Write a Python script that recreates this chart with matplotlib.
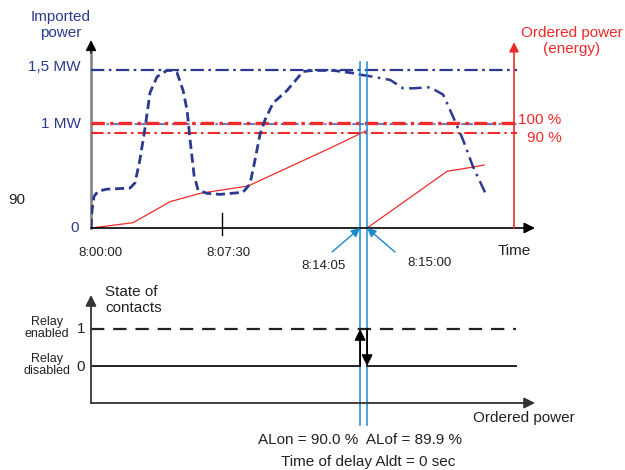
import matplotlib
matplotlib.use("Agg")
import matplotlib.pyplot as plt

plt.rcParams['font.family'] = ['Liberation Sans', 'DejaVu Sans']

# imported power (MW) against time (min after 8:00:00)
t_imp = [0, 0.06, 0.17, 0.40, 0.92, 2.23, 2.52, 2.80, 3.09, 3.38, 3.78, 4.35, 4.69, 4.92,
         5.27, 5.50, 5.67, 5.90, 6.13, 6.64, 7.38, 8.70, 9.10, 9.39, 9.67, 9.96, 10.42,
         11.22, 12.14, 12.71, 13.85, 15.23, 15.40]
p_imp = [0, 0.17, 0.30, 0.35, 0.37, 0.38, 0.43, 0.65, 0.95, 1.29, 1.44, 1.50, 1.50, 1.48,
         1.31, 1.12, 0.84, 0.50, 0.36, 0.33, 0.32, 0.34, 0.42, 0.65, 0.89, 1.03, 1.19,
         1.31, 1.49, 1.50, 1.50, 1.47, 1.46]
t_imp2 = [15.40, 15.80, 17.12, 17.86, 18.43, 19.40, 20.15, 20.72, 21.29, 21.87, 22.55]
p_imp2 = [1.46, 1.45, 1.41, 1.33, 1.33, 1.34, 1.27, 1.06, 0.84, 0.58, 0.34]

# ordered energy, two accounting periods
t_ord1 = [0, 2.40, 4.52, 6.24, 8.99, 13.68, 15.80]
e_ord1 = [0, 0.05, 0.25, 0.33, 0.40, 0.76, 0.93]
t_ord2 = [15.80, 20.38, 21.87, 22.50]
e_ord2 = [0, 0.54, 0.58, 0.60]

p_max = 1.5
p_100 = 1.0
p_90 = 0.9
t_end = 24.4
t_on = 15.40    # 8:14:05
t_off = 15.80   # 8:15:00
t_tick = 7.5    # 8:07:30

NAVY = '#2b3a8f'
RED = '#ee2a2a'
CYAN = '#1a8ad0'

W, H = 625, 470
fig = plt.figure(figsize=(W / 100, H / 100), dpi=100)


def box(l, t, r, b):
    return [l / W, 1 - b / H, (r - l) / W, (b - t) / H]


ax = fig.add_axes(box(91, 40, 535, 228))
ax.set_xlim(0, 25.41)
ax.set_ylim(0, 1.79)
ax.axis('off')
ax.patch.set_visible(False)

# axes arrows
ax.plot([0, 0], [0, 1.70], color='#8a8a8a', lw=2, clip_on=False)
ax.annotate('', xy=(0, 1), xytext=(0, 0.93), xycoords='axes fraction',
            arrowprops=dict(arrowstyle='-|>', color='k', lw=1, mutation_scale=16,
                            shrinkA=0, shrinkB=0))
ax.annotate('', xy=(1, 0), xytext=(0, 0), xycoords='axes fraction',
            arrowprops=dict(arrowstyle='-|>', color='k', lw=1.2, mutation_scale=16,
                            shrinkA=0, shrinkB=0))
ax.plot([t_tick, t_tick], [-0.067, 0.143], color='k', lw=1, clip_on=False)

# level lines
dd = (0, (6, 2, 1.2, 2))
ax.plot([0, t_end], [p_max, p_max], color=NAVY, lw=1.6, ls=dd)
ax.plot([0, t_end], [p_100 - 0.012, p_100 - 0.012], color='#6a78c0', lw=1.4, ls=dd)
ax.plot([0, t_end], [p_100, p_100], color=RED, lw=2.4, ls=(0, (4, 1.6, 1, 1.6)))
ax.plot([0, t_end], [p_90, p_90], color=RED, lw=1.5, ls=dd)

# ordered power axis
ax.annotate('', xy=(24.21, 1.77), xytext=(24.21, 0),
            arrowprops=dict(arrowstyle='-|>', color=RED, lw=1.2, mutation_scale=14,
                            shrinkA=0, shrinkB=0))

ax.plot(t_ord1, e_ord1, color=RED, lw=0.9)
ax.plot(t_ord2, e_ord2, color=RED, lw=0.9)
ax.plot(t_imp, p_imp, color=NAVY, lw=2, ls=(0, (3.3, 1.7)))
ax.plot(t_imp2, p_imp2, color=NAVY, lw=1.8, ls=(0, (5, 2.2, 1, 2.2)))

# switching instants, run through both panels
for tv in (t_on, t_off):
    ax.axvline(tv, ymin=-1.048, ymax=0.883, color=CYAN, lw=1.1, clip_on=False)

arr = dict(arrowstyle='-|>', color=CYAN, lw=1, mutation_scale=13, shrinkA=0, shrinkB=0)
ax.annotate('', xy=(t_on, 0), xytext=(332, H - 252), textcoords='figure pixels',
            arrowprops=arr)
ax.annotate('', xy=(t_off, 0), xytext=(395, H - 252), textcoords='figure pixels',
            arrowprops=arr)

# bottom panel: relay state
bx = fig.add_axes(box(91, 295, 535, 403))
bx.set_xlim(0, 25.41)
bx.set_ylim(-1, 1.92)
bx.axis('off')
bx.patch.set_visible(False)
bx.annotate('', xy=(0, 1), xytext=(0, 0), xycoords='axes fraction',
            arrowprops=dict(arrowstyle='-|>', color='#333333', lw=1.3, mutation_scale=16,
                            shrinkA=0, shrinkB=0))
bx.annotate('', xy=(1, 0), xytext=(0, 0), xycoords='axes fraction',
            arrowprops=dict(arrowstyle='-|>', color='#333333', lw=1.3, mutation_scale=16,
                            shrinkA=0, shrinkB=0))
bx.plot([0, t_end - 0.07], [1, 1], color='#222222', lw=1.6, ls=(0, (6, 4)))
bx.plot([0, t_on], [0, 0], color='#222222', lw=1.4)
bx.plot([t_off, t_end - 0.07], [0, 0], color='#222222', lw=1.4)
bx.annotate('', xy=(t_on, 1), xytext=(t_on, 0),
            arrowprops=dict(arrowstyle='-|>', color='k', lw=1.3, mutation_scale=16,
                            shrinkA=0, shrinkB=0))
bx.annotate('', xy=(t_off, 0), xytext=(t_off, 1),
            arrowprops=dict(arrowstyle='-|>', color='k', lw=1.3, mutation_scale=16,
                            shrinkA=0, shrinkB=0))


def txt(px, py, s, **kw):
    kw.setdefault('fontsize', 11)
    kw.setdefault('va', 'center')
    fig.text(px / W, 1 - py / H, s, **kw)


txt(61, 25, 'Imported\npower', color=NAVY, ha='center', linespacing=1.15)
txt(81, 67, '1,5 MW', color=NAVY, ha='right')
txt(81, 124, '1 MW', color=NAVY, ha='right')
txt(79, 228, '0', color=NAVY, ha='right')
txt(17, 200, '90', color='#222222', ha='center')
txt(572, 41, 'Ordered power\n(energy)', color=RED, ha='center', linespacing=1.1)
txt(518, 120, '100 %', color=RED, ha='left')
txt(562, 138, '90 %', color=RED, ha='right')
txt(514, 251, 'Time', color='#222222', ha='center')
txt(100, 253, '8:00:00', color='#222222', ha='center', fontsize=9.5)
txt(228, 253, '8:07:30', color='#222222', ha='center', fontsize=9.5)
txt(323, 266, '8:14:05', color='#222222', ha='center', fontsize=9.5)
txt(430, 263, '8:15:00', color='#222222', ha='center', fontsize=9.5)

txt(105, 300, 'State of\ncontacts', color='#222222', ha='left', linespacing=1.1)
txt(47, 328, 'Relay\nenabled', color='#222222', ha='center', fontsize=9, linespacing=1.05)
txt(47, 365, 'Relay\ndisabled', color='#222222', ha='center', fontsize=9, linespacing=1.05)
txt(81, 329, '1', color='#222222', ha='center')
txt(81, 367, '0', color='#222222', ha='center')
txt(473, 418, 'Ordered power', color='#222222', ha='left')
txt(360, 440, 'ALon = 90.0 %  ALof = 89.9 %', color='#222222', ha='center')
txt(368, 462, 'Time of delay Aldt = 0 sec', color='#222222', ha='center')

fig.savefig('out.png', dpi=100, facecolor='white')
